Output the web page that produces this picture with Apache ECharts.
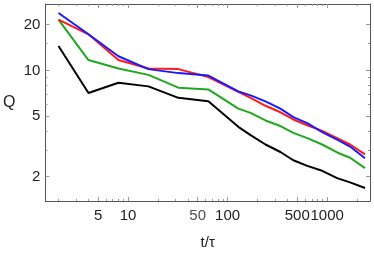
<!DOCTYPE html>
<html>
<head>
<meta charset="utf-8">
<script src="https://cdn.jsdelivr.net/npm/echarts@6/dist/echarts.min.js"></script>
<style>
html,body{margin:0;padding:0;background:#fff;}
#c{width:374px;height:255px;}
</style>
</head>
<body>
<div id="c"></div>
<script>
const xValues = [2,4,8,16,32,64,128,170,240,339,457,631,891,1259,1698,2399];
const blackQ = [14.5,7.1,8.3,7.85,6.6,6.27,4.25,3.75,3.25,2.9,2.56,2.35,2.18,1.95,1.83,1.68];
const greenQ = [21.6,11.7,10.3,9.35,7.7,7.5,5.6,5.25,4.68,4.3,3.88,3.58,3.25,2.88,2.66,2.27];
const redQ = [21.6,17.3,11.7,10.3,10.2,9.05,7.22,6.6,5.85,5.3,4.75,4.35,4.0,3.58,3.25,2.8];
const blueQ = [23.9,17.3,12.4,10.2,9.6,9.25,7.28,6.85,6.25,5.6,4.92,4.5,3.92,3.5,3.15,2.64];

const xMajorTicks = [5,10,50,100,500,1000];
const xAxisLabels = [5,10,100,500,1000];
const xExtraLabels = [50];
const xMinorTicks = [2,3,4,6,7,8,9,20,30,40,60,70,80,90,200,300,400,600,700,800,900,2000];
const yMajorTicks = [2,5,10,20];
const yMinorTicks = [3,4,6,7,8,9,15];

const X_MIN = 1.479, X_MAX = 2692;
const Y_MIN = 1.379, Y_MAX = 27.4;

const tickColor = '#999';
const frameColor = '#555';
const font = 'Liberation Sans, Arial, sans-serif';
const fmt = v => String(Math.round(v));

function xAx(pos, ticks, len, showLine, labels) {
  return {
    type: 'log', logBase: 10, min: X_MIN, max: X_MAX, position: pos,
    axisLine: {show: showLine, lineStyle: {color: frameColor, width: 1}},
    axisTick: {show: true, inside: true, length: len, customValues: ticks, lineStyle: {color: tickColor}},
    axisLabel: labels ? {show: true, customValues: labels, formatter: fmt, interval: 0, hideOverlap: false, showMinLabel: true, showMaxLabel: true, fontSize: 15, color: '#222', margin: 7, fontFamily: font} : {show: false},
    splitLine: {show: false}, minorTick: {show: false}
  };
}
function yAx(pos, ticks, len, showLine, labels) {
  return {
    type: 'log', logBase: 10, min: Y_MIN, max: Y_MAX, position: pos,
    axisLine: {show: showLine, lineStyle: {color: frameColor, width: 1}},
    axisTick: {show: true, inside: true, length: len, customValues: ticks, lineStyle: {color: tickColor}},
    axisLabel: labels ? {show: true, customValues: labels, formatter: fmt, interval: 0, hideOverlap: false, fontSize: 15, color: '#222', margin: 5, fontFamily: font} : {show: false},
    splitLine: {show: false}, minorTick: {show: false}
  };
}

const xAxes = [
  xAx('bottom', xMajorTicks, 4, true, xAxisLabels),
  xAx('bottom', xMinorTicks, 2, false, null),
  xAx('top', xMajorTicks, 4, true, null),
  xAx('top', xMinorTicks, 2, false, null)
];
Object.assign(xAxes[0], {name: 't/τ', nameLocation: 'middle', nameGap: 34, nameTextStyle: {fontSize: 15, color: '#222', fontFamily: font}});
const yAxes = [
  yAx('left', yMajorTicks, 4, true, yMajorTicks),
  yAx('left', yMinorTicks, 2, false, null),
  yAx('right', yMajorTicks, 4, true, null),
  yAx('right', yMinorTicks, 2, false, null)
];
Object.assign(yAxes[0], {name: 'Q', nameLocation: 'middle', nameGap: 30, nameRotate: 0, nameTextStyle: {fontSize: 16, color: '#222', fontFamily: font}});

function mk(vals, color) {
  return {
    type: 'line', xAxisIndex: 0, yAxisIndex: 0,
    data: xValues.map((x, i) => [x, vals[i]]),
    showSymbol: false, symbol: 'none',
    lineStyle: {color: color, width: 2}, itemStyle: {color: color},
    animation: false
  };
}

const chart = echarts.init(document.getElementById('c'), null, {renderer: 'canvas'});
chart.setOption({
  animation: false,
  grid: {left: 44, right: 4, top: 4, bottom: 51, containLabel: false},
  xAxis: xAxes,
  yAxis: yAxes,
  series: [
    mk(blackQ, '#000000'),
    mk(greenQ, '#1fa81f'),
    mk(redQ, '#ff1a1a'),
    mk(blueQ, '#1a1aff'),
    {
      type: 'scatter', xAxisIndex: 0, yAxisIndex: 0, silent: true, clip: false,
      data: xExtraLabels.map(v => [v, Y_MIN]),
      symbolSize: 1, itemStyle: {color: 'rgba(0,0,0,0)'},
      label: {show: true, position: 'bottom', distance: 7, formatter: p => fmt(p.value[0]),
              fontSize: 15, color: '#222', fontFamily: font},
      animation: false
    }
  ]
});
</script>
</body>
</html>
